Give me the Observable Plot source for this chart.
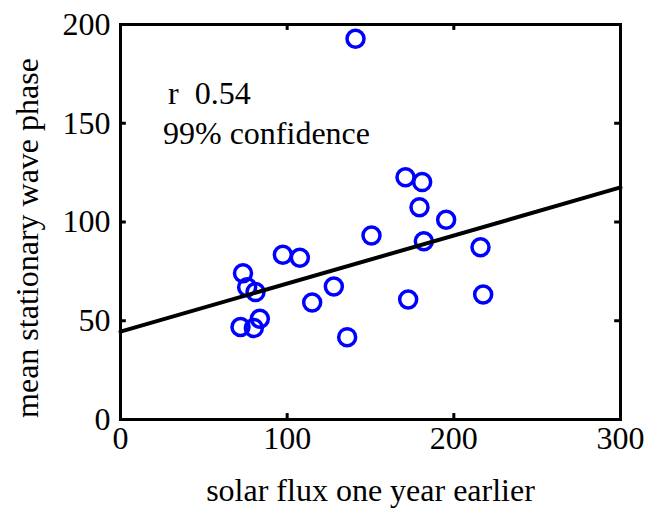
<!DOCTYPE html>
<html>
<head>
<meta charset="utf-8">
<script src="https://cdn.jsdelivr.net/npm/d3@7"></script>
<script src="https://cdn.jsdelivr.net/npm/@observablehq/plot@0.6"></script>
<style>
  body { margin: 0; background: #fff; }
</style>
</head>
<body>
<div id="chart"></div>
<script>
// Yearly samples: solar flux (one year earlier) vs. mean stationary wave phase
const solarFlux = [141, 171, 181, 179.4, 195.4, 150.6, 182, 216, 97.4, 107.6, 73.5,
                   76, 81, 128, 115, 172.6, 217.6, 83.6, 72, 80, 136];
const wavePhase = [192.8, 122.7, 120.2, 107.5, 101.1, 93.2, 90.3, 87.2, 83.4, 81.9, 74,
                   67, 64.5, 67.3, 59.2, 60.8, 63.3, 51, 46.8, 46.3, 41.7];

// Least-squares fit line, end points across the flux domain
const fitFlux = [0, 300];
const fitPhase = [44.5, 117.5];

const xTicks = [0, 100, 200, 300];
const yTicks = [0, 50, 100, 150, 200];
const xInnerTicks = [100, 200];
const yInnerTicks = [50, 100, 150];

const corrLabel = "r\u00a0\u00a00.54";
const confLabel = "99% confidence";
const xLabel = "solar flux one year earlier";
const yLabel = "mean stationary wave phase";

const points = solarFlux.map((x, i) => ({x, y: wavePhase[i]}));
const fit = fitFlux.map((x, i) => ({x, y: fitPhase[i]}));

const serif = "'Liberation Serif', 'Times New Roman', Times, serif";
const fs = 32;

const chart = Plot.plot({
  width: 645,
  height: 509,
  marginLeft: 120,
  marginRight: 25,
  marginTop: 24,
  marginBottom: 90,
  style: {fontFamily: serif, fontSize: fs + "px", color: "black", background: "white"},
  x: {domain: [0, 300]},
  y: {domain: [0, 200]},
  marks: [
    Plot.axisX(xTicks, {tickSize: 0, tickPadding: 7, label: null, fontSize: fs, fontFamily: serif}),
    Plot.axisY(yTicks, {tickSize: 0, tickPadding: 10, label: null, fontSize: fs, fontFamily: serif}),
    // inward tick marks on all four sides
    Plot.ruleX(xInnerTicks, {y1: 0, y2: 3, stroke: "black", strokeWidth: 3}),
    Plot.ruleX(xInnerTicks, {y1: 197, y2: 200, stroke: "black", strokeWidth: 3}),
    Plot.ruleY(yInnerTicks, {x1: 0, x2: 3.5, stroke: "black", strokeWidth: 3}),
    Plot.ruleY(yInnerTicks, {x1: 296.5, x2: 300, stroke: "black", strokeWidth: 3}),
    Plot.dot(points, {x: "x", y: "y", r: 8.5, fill: "none", stroke: "#0000ff", strokeWidth: 3.5}),
    Plot.line(fit, {x: "x", y: "y", stroke: "black", strokeWidth: 4}),
    Plot.frame({stroke: "black", strokeWidth: 3}),
    Plot.text([corrLabel], {x: 28.5, y: 160, text: d => d, textAnchor: "start", lineAnchor: "bottom", fontSize: fs, fontFamily: serif, fill: "black"}),
    Plot.text([confLabel], {x: 25.5, y: 139.7, text: d => d, textAnchor: "start", lineAnchor: "bottom", fontSize: fs, fontFamily: serif, fill: "black"}),
    Plot.text([xLabel], {frameAnchor: "bottom", dy: 81, text: d => d, textAnchor: "middle", lineAnchor: "bottom", fontSize: fs, fontFamily: serif, fill: "black"}),
    Plot.text([yLabel], {frameAnchor: "left", dx: -83, dy: 16, rotate: -90, text: d => d, textAnchor: "middle", lineAnchor: "bottom", fontSize: fs, fontFamily: serif, fill: "black"})
  ]
});

document.getElementById("chart").appendChild(chart);
</script>
</body>
</html>
